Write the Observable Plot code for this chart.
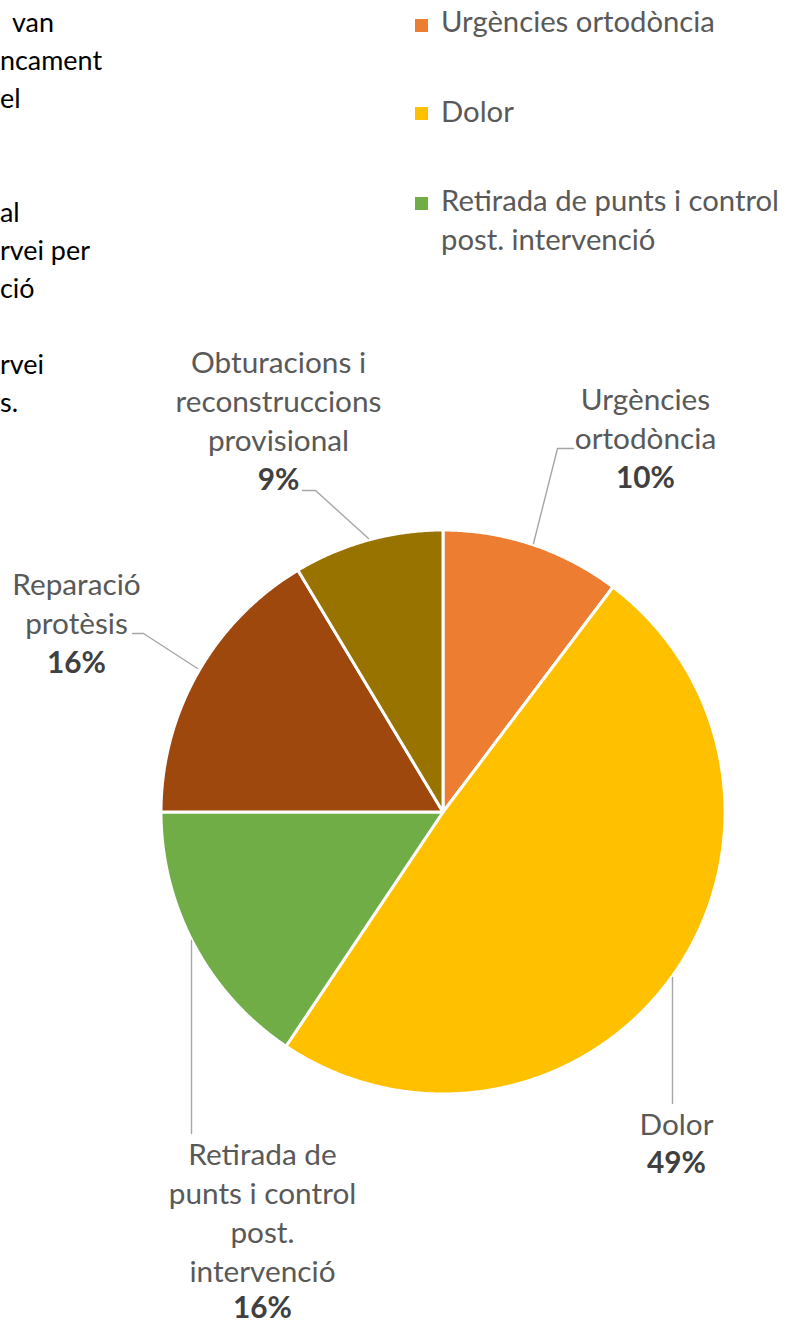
<!DOCTYPE html>
<html><head><meta charset="utf-8">
<script src="https://cdn.jsdelivr.net/npm/d3@7"></script>
<script src="https://cdn.jsdelivr.net/npm/@observablehq/plot@0.6"></script>
<style>
html,body{margin:0;padding:0;background:#fff;overflow:hidden;}
#wrap{position:relative;width:797px;height:1322px;overflow:hidden;font-family:Lato,"Open Sans",sans-serif;}
#wrap svg{position:absolute;left:0;top:0;}
.abs{position:absolute;white-space:nowrap;}
</style></head><body><div id="wrap"></div>
<script>
// ---------- data ----------
const categories = ["Urgències ortodòncia", "Dolor", "Retirada de punts i control post. intervenció", "Reparació protèsis", "Obturacions i reconstruccions provisional"];
const shares = [10.3, 49.1, 15.6, 16.4, 8.6];
const percentLabels = ["10%", "49%", "16%", "16%", "9%"];
const sliceColors = ["#ED7D31", "#FFC000", "#70AD47", "#9E480E", "#997300"];
const labelLines = [["Urgències", "ortodòncia"], ["Dolor"], ["Retirada de", "punts i control", "post.", "intervenció"], ["Reparació", "protèsis"], ["Obturacions i", "reconstruccions", "provisional"]];
const legendCategories = ["Urgències ortodòncia", "Dolor", "Retirada de punts i control post. intervenció"];
const legendLines = [["Urgències ortodòncia"], ["Dolor"], ["Retirada de punts i control", "post. intervenció"]];
const paragraphLines = ["van", "ncament", "el", "", "", "al", "rvei per", "ció", "", "rvei", "s."];

// ---------- layout ----------
const W = 797, H = 1322, CX = 442.5, CY = 811.5, R = 282;
const FONT = 'Lato, "Open Sans", sans-serif';
const LINE = 38.7;
// label layout in page pixels: block centre x, baseline of last name line, baseline of percent, leader polyline
const labelLayout = [
  {x: 645, nameBase: 448, pctBase: 487, leader: [[533, 543], [557, 448], [573, 448]]},
  {x: 676, nameBase: 1134, pctBase: 1172, leader: [[672, 977], [672, 1103]]},
  {x: 262, nameBase: 1281, pctBase: 1317, leader: [[191, 940], [191, 1133]]},
  {x: 76, nameBase: 633, pctBase: 672, leader: [[132, 633], [143, 633], [197, 668]]},
  {x: 278, nameBase: 450, pctBase: 489, leader: [[302, 490], [315, 490], [368, 538]]}
];

// font size fitted to measured widths
const ctx = document.createElement("canvas").getContext("2d");
function fit(text, target, weight = "normal") {
  ctx.font = `${weight} 100px ${FONT}`;
  return 100 * target / ctx.measureText(text).width;
}
const legendSize = fit("Urgències ortodòncia", 274);
const labelSize = fit("reconstruccions", 206);
const paraSize = fit("rvei per", 90);

const ux = px => (px - CX) / R;
const uy = py => (py - CY) / R;

// ---------- slices ----------
const arcs = d3.pie().sort(null).value(d => d).startAngle(0).endAngle(2 * Math.PI)(shares);
const slicePts = [];
arcs.forEach((a, i) => {
  const name = categories[i];
  slicePts.push({name, x: 0, y: 0});
  const n = Math.max(2, Math.ceil((a.endAngle - a.startAngle) / 0.005));
  for (let k = 0; k <= n; k++) {
    const t = a.startAngle + (a.endAngle - a.startAngle) * k / n;
    slicePts.push({name, x: Math.sin(t), y: -Math.cos(t)});
  }
  slicePts.push({name, x: 0, y: 0});
});

const leaderPts = [];
labelLayout.forEach((L, i) => L.leader.forEach(([px, py]) => leaderPts.push({name: categories[i], x: ux(px), y: uy(py)})));
const nameLabels = labelLayout.map((L, i) => ({x: ux(L.x), y: uy(L.nameBase), text: labelLines[i].join("\n")}));
const pctLabels = labelLayout.map((L, i) => ({x: ux(L.x), y: uy(L.pctBase), text: percentLabels[i]}));

const chart = Plot.plot({
  width: W, height: H, margin: 0,
  x: {domain: [-1, 1], range: [CX - R, CX + R], axis: null},
  y: {domain: [-1, 1], range: [CY - R, CY + R], axis: null},
  color: {domain: categories, range: sliceColors},
  style: {fontFamily: FONT, background: "transparent", overflow: "visible"},
  marks: [
    Plot.line(slicePts, {x: "x", y: "y", z: "name", fill: "name", stroke: "white", strokeWidth: 3, strokeLinejoin: "round", curve: "linear"}),
    Plot.line(leaderPts, {x: "x", y: "y", z: "name", stroke: "#a6a6a6", strokeWidth: 1.4, curve: "linear"}),
    Plot.text(nameLabels, {x: "x", y: "y", text: "text", lineAnchor: "bottom", textAnchor: "middle", fontSize: labelSize, lineHeight: LINE / labelSize, fill: "#595959"}),
    Plot.text(pctLabels, {x: "x", y: "y", text: "text", lineAnchor: "bottom", textAnchor: "middle", fontSize: labelSize, fontWeight: "bold", fill: "#404040"})
  ]
});
const wrap = document.getElementById("wrap");
wrap.appendChild(chart);

// ---------- HTML legend & cropped paragraph ----------
function baselineTop(base, size, lh) { // Lato metrics
  return base - ((lh - 1.2 * size) / 2 + 0.987 * size);
}
const legendBases = [33, 123, 212];
const legendSquares = [19, 107, 197];
legendCategories.forEach((c, i) => {
  const sq = document.createElement("div");
  sq.className = "abs";
  sq.style.cssText = `left:415px;top:${legendSquares[i]}px;width:13px;height:13px;background:${sliceColors[categories.indexOf(c)]};`;
  wrap.appendChild(sq);
  const t = document.createElement("div");
  t.className = "abs";
  t.style.cssText = `left:441px;top:${baselineTop(legendBases[i], legendSize, LINE)}px;font-size:${legendSize}px;line-height:${LINE}px;color:#595959;`;
  t.innerHTML = legendLines[i].join("<br>");
  wrap.appendChild(t);
});
const paraLefts = [12, 0, 0, 0, 0, 0, 0, 0, 0, 0, 0];
paragraphLines.forEach((s, i) => {
  if (!s) return;
  const d = document.createElement("div");
  d.className = "abs";
  d.style.cssText = `left:${paraLefts[i]}px;top:${baselineTop(32 + 38 * i, paraSize, 38)}px;font-size:${paraSize}px;line-height:38px;color:#000;`;
  d.textContent = s;
  wrap.appendChild(d);
});
</script></body></html>
